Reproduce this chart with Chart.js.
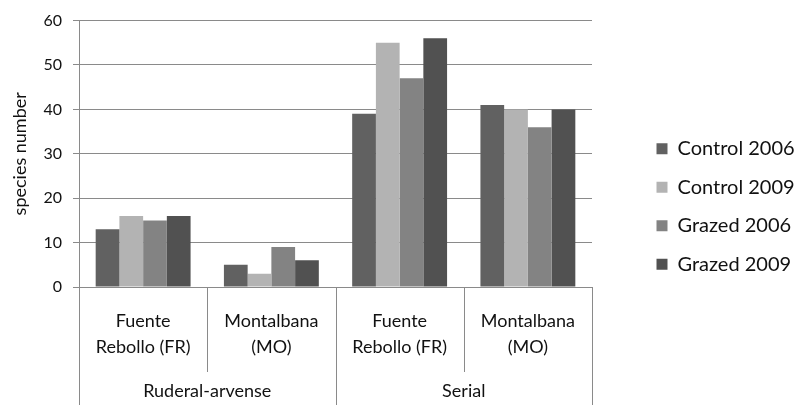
<!DOCTYPE html>
<html>
<head>
<meta charset="utf-8">
<script src="https://cdn.jsdelivr.net/npm/chart.js@4/dist/chart.umd.min.js"></script>
<style>
  html, body { margin: 0; padding: 0; background: #ffffff; }
  #wrap { width: 797px; height: 405px; }
</style>
</head>
<body>
<div id="wrap"><canvas id="c" width="797" height="405"></canvas></div>
<script>
// Sites (inner axis level) and habitat groups (outer axis level)
const siteLabels = [
  ['Fuente', 'Rebollo (FR)'],
  ['Montalbana', '(MO)'],
  ['Fuente', 'Rebollo (FR)'],
  ['Montalbana', '(MO)']
];
const groupLabels = ['Ruderal-arvense', 'Serial'];

// Species number per site and treatment
const control2006 = [13, 5, 39, 41];
const control2009 = [16, 3, 55, 40];
const grazed2006  = [15, 9, 47, 36];
const grazed2009  = [16, 6, 56, 40];

const seriesNames = ['Control 2006', 'Control 2009', 'Grazed 2006', 'Grazed 2009'];
const yTicks = [0, 10, 20, 30, 40, 50, 60];

const FONT = 'Lato, "Open Sans", sans-serif';
const LINE = '#8a8a8a';

// Vertical separators of the two-level category axis
const separators = {
  id: 'separators',
  afterDraw(chart) {
    const x = chart.scales.x;
    const n = siteLabels.length;
    const half = (x.getPixelForValue(1) - x.getPixelForValue(0)) / 2;
    const ctx = chart.ctx;
    ctx.save();
    ctx.strokeStyle = LINE;
    ctx.lineWidth = 1;
    for (let i = 0; i <= n; i++) {
      const px = i < n ? x.getPixelForValue(i) - half : x.getPixelForValue(n - 1) + half;
      const xx = Math.round(px) + 0.5;
      const full = (i % 2 === 0);
      ctx.beginPath();
      ctx.moveTo(xx, x.top);
      ctx.lineTo(xx, full ? chart.height : x.bottom);
      ctx.stroke();
    }
    ctx.restore();
  }
};

// Legend block: fixed width on the right, boxes placed further in
const legendPlacement = {
  id: 'legendPlacement',
  afterInit(chart) {
    const lg = chart.legend;
    if (!lg) return;
    const fit = lg.fit.bind(lg);
    lg.fit = function () { fit(); this.width = 205; };
  },
  afterLayout(chart) {
    const lg = chart.legend;
    lg.left = 638; lg.right = 797; lg.width = 159;
    lg.top = 8; lg.bottom = 405; lg.height = 397;
  }
};

new Chart(document.getElementById('c'), {
  type: 'bar',
  data: {
    labels: siteLabels,
    datasets: [
      { label: seriesNames[0], data: control2006, backgroundColor: '#616161' },
      { label: seriesNames[1], data: control2009, backgroundColor: '#b3b3b3' },
      { label: seriesNames[2], data: grazed2006,  backgroundColor: '#838383' },
      { label: seriesNames[3], data: grazed2009,  backgroundColor: '#515151' }
    ]
  },
  options: {
    responsive: false,
    devicePixelRatio: 1,
    animation: false,
    layout: { padding: { top: 14, left: 0, right: 0, bottom: 0 } },
    datasets: { bar: { categoryPercentage: 0.74, barPercentage: 1.0, borderWidth: 0 } },
    scales: {
      x: {
        position: 'bottom',
        weight: 0,
        grid: { display: false, drawTicks: false },
        border: { display: false },
        ticks: {
          color: '#111',
          font: { family: FONT, size: 18, lineHeight: 1.45 },
          padding: 21,
          maxRotation: 0,
          autoSkip: false
        },
        afterFit(s) { s.height = 85; }
      },
      x2: {
        type: 'category',
        position: 'bottom',
        weight: 1,
        labels: groupLabels,
        offset: true,
        grid: { display: false, drawTicks: false },
        border: { display: false },
        ticks: {
          color: '#111',
          font: { family: FONT, size: 18, lineHeight: 1.2 },
          padding: 8,
          maxRotation: 0,
          autoSkip: false
        },
        afterFit(s) { s.height = 33; }
      },
      y: {
        min: 0,
        max: 60,
        afterBuildTicks(s) { s.ticks = yTicks.map(v => ({ value: v })); },
        grid: { color: LINE, lineWidth: 1, drawTicks: true, tickLength: 6 },
        border: { color: LINE, width: 1 },
        ticks: {
          color: '#111',
          font: { family: FONT, size: 16 },
          padding: 11
        },
        title: {
          display: true,
          text: 'species number',
          color: '#111',
          font: { family: FONT, size: 18 },
          padding: { top: 9, bottom: 0 }
        },
        afterFit(s) { s.width = 79; }
      }
    },
    plugins: {
      legend: {
        position: 'right',
        align: 'center',
        labels: {
          color: '#111',
          font: { family: FONT, size: 20 },
          boxWidth: 11,
          boxHeight: 11,
          padding: 18.5
        }
      },
      tooltip: { enabled: false }
    }
  },
  plugins: [separators, legendPlacement]
});
</script>
</body>
</html>
